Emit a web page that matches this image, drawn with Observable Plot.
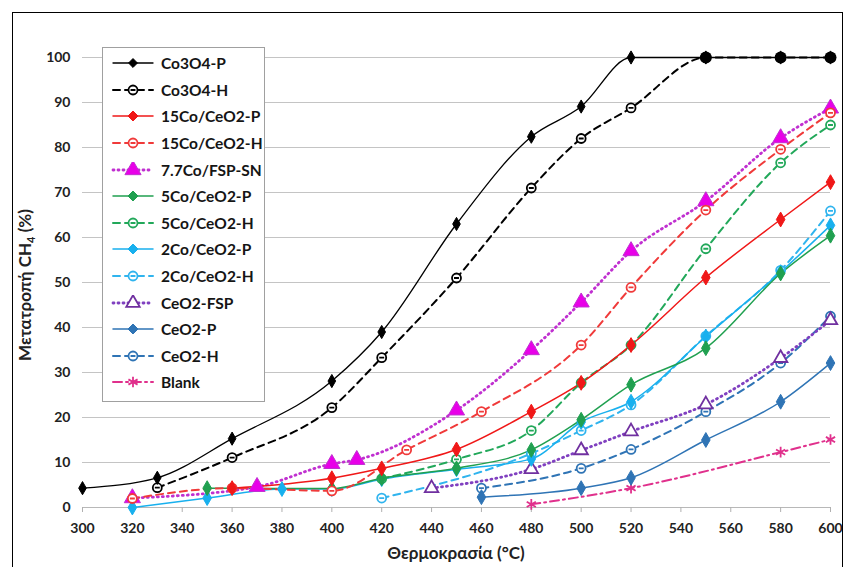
<!DOCTYPE html>
<html><head><meta charset="utf-8">
<script src="https://cdn.jsdelivr.net/npm/d3@7"></script>
<script src="https://cdn.jsdelivr.net/npm/@observablehq/plot@0.6"></script>
<style>
body{margin:0;background:#fff;font-family:Lato,"Open Sans",sans-serif;}
#wrap{position:relative;width:851px;height:567px;overflow:hidden;}
#frame{position:absolute;left:12px;top:12px;width:831px;height:566px;border:1.5px solid #000;pointer-events:none;box-sizing:border-box}
#legend{position:absolute;left:102px;top:47px;width:163px;height:355px;border:1px solid #a0a0a0;background:#fff;box-sizing:border-box;padding-top:2px}
.row{height:26.6px;display:flex;align-items:center;font-weight:bold;font-size:15.5px;color:#151515;white-space:nowrap}
.row svg{margin-left:8px;margin-right:6px;flex:none}
</style>
</head><body>
<div id="wrap"><div id="chart"></div><div id="legend"></div><div id="frame"></div></div>
<script>
// ---- data ----
const xTicks = [300,320,340,360,380,400,420,440,460,480,500,520,540,560,580,600];
const yTicks = [0,10,20,30,40,50,60,70,80,90,100];
const seriesNames = ["Co3O4-P","Co3O4-H","15Co/CeO2-P","15Co/CeO2-H","7.7Co/FSP-SN","5Co/CeO2-P","5Co/CeO2-H","2Co/CeO2-P","2Co/CeO2-H","CeO2-FSP","CeO2-P","CeO2-H","Blank"];

const co3o4P_T = [300,330,360,400,420,450,480,500,520,550,580,600];
const co3o4P_X = [4.3,6.6,15.3,28.1,39.0,63.0,82.4,89.1,100,100,100,100];
const co3o4H_T = [330,360,400,420,450,480,500,520,550,580,600];
const co3o4H_X = [4.4,11.1,22.2,33.3,51.0,71.0,82.0,88.8,100,100,100];
const co15P_T = [360,400,420,450,480,500,520,550,580,600];
const co15P_X = [4.3,6.5,8.7,12.9,21.3,27.7,36.1,51.1,64.0,72.3];
const co15H_T = [320,360,400,430,460,500,520,550,580,600];
const co15H_X = [2.0,4.3,3.7,12.8,21.3,36.1,48.9,66.1,79.6,87.7];
const co77_T = [320,370,400,410,450,480,500,520,550,580,600];
const co77_X = [2.1,4.6,9.7,10.6,21.6,35.0,45.6,57.0,68.1,82.1,88.7];
const co5P_T = [350,400,420,450,480,500,520,550,580,600];
const co5P_X = [4.3,4.2,6.5,8.7,12.8,19.5,27.3,35.4,52.0,60.4];
const co5H_T = [420,450,480,500,520,550,580,600];
const co5H_X = [6.4,10.7,17.1,27.7,36.1,57.5,76.6,85.0];
const co2P_T = [320,350,380,400,420,450,480,500,520,550,580,600];
const co2P_X = [0.0,2.1,4.1,4.1,6.3,8.5,10.8,19.0,23.5,38.0,52.3,62.7];
const co2H_T = [420,480,500,520,550,580,600];
const co2H_X = [2.1,12.0,17.1,22.8,38.1,52.7,65.9];
const ceFSP_T = [440,480,500,520,550,580,600];
const ceFSP_X = [4.3,8.5,12.7,16.9,22.9,33.2,41.6];
const ceP_T = [460,500,520,550,580,600];
const ceP_X = [2.3,4.3,6.6,15.0,23.5,32.1];
const ceH_T = [460,500,520,550,580,600];
const ceH_X = [4.3,8.7,12.9,21.3,32.1,42.5];
const blank_T = [480,520,580,600];
const blank_X = [0.7,4.3,12.3,15.1];

const seriesData = [
  [co3o4P_T,co3o4P_X],[co3o4H_T,co3o4H_X],[co15P_T,co15P_X],[co15H_T,co15H_X],
  [co77_T,co77_X],[co5P_T,co5P_X],[co5H_T,co5H_X],[co2P_T,co2P_X],[co2H_T,co2H_X],
  [ceFSP_T,ceFSP_X],[ceP_T,ceP_X],[ceH_T,ceH_X],[blank_T,blank_X]
];

// ---- styles ----
const theta = {draw(ctx, size){const r=Math.sqrt(size/Math.PI);ctx.moveTo(r,0);ctx.arc(0,0,r,0,2*Math.PI);ctx.moveTo(-r*0.55,0);ctx.lineTo(r*0.55,0);}};
const styles = [
  {color:"#000000", dash:null, w:1.3, sym:"diamond", r:4, filled:true},
  {color:"#000000", dash:"7,5", w:2, sym:theta, r:4.5, filled:false},
  {color:"#f01818", dash:null, w:1.5, sym:"diamond", r:4.5, filled:true},
  {color:"#f03a3a", dash:"7,5", w:2, sym:theta, r:4.5, filled:false},
  {color:"#c030d0", dash:"1,4", w:2.8, sym:"triangle", r:6, filled:true, fillColor:"#e800e8"},
  {color:"#20a050", dash:null, w:1.5, sym:"diamond", r:4.5, filled:true},
  {color:"#22a85a", dash:"7,5", w:2, sym:theta, r:4.5, filled:false},
  {color:"#18b0ee", dash:null, w:1.5, sym:"diamond", r:4.5, filled:true},
  {color:"#30b4ee", dash:"7,5", w:2, sym:theta, r:4.5, filled:false},
  {color:"#8040c0", dash:"1,4", w:2.8, sym:"triangle", r:5, filled:false, markColor:"#7030a0"},
  {color:"#2f74b5", dash:null, w:1.5, sym:"diamond", r:4.5, filled:true},
  {color:"#2f74b5", dash:"7,5", w:2, sym:theta, r:4.5, filled:false},
  {color:"#e0308c", dash:"9,4,2,4", w:2, sym:"asterisk", r:5, filled:false}
];

const rows = [];
seriesData.forEach(([T,X],i)=>T.forEach((t,j)=>rows.push({s:i, t, v:X[j]})));

const marks = [
  Plot.gridY(yTicks, {stroke:"#c4c4c4", strokeOpacity:1, strokeWidth:1}),
  Plot.ruleY([0], {stroke:"#b8b8b8"}),
  Plot.axisX(xTicks, {tickSize:5, tickPadding:11, stroke:"#b0b0b0", fontSize:14, fontWeight:"bold", fill:"#222", label:null}),
  Plot.axisY(yTicks, {tickSize:0, tickPadding:12, fontSize:14, fontWeight:"bold", fill:"#222", label:null})
];
for (let i = seriesData.length-1; i >= 0; i--) {
  const st = styles[i];
  const d = rows.filter(r=>r.s===i);
  marks.push(Plot.line(d, {x:"t", y:"v", stroke:st.color, strokeWidth:st.w, strokeDasharray:st.dash, strokeLinecap:"round", curve:"monotone-x"}));
}
for (let i = seriesData.length-1; i >= 0; i--) {
  const st = styles[i];
  const d = rows.filter(r=>r.s===i);
  const mc = st.markColor || st.color;
  marks.push(Plot.dot(d, {x:"t", y:"v", symbol:()=>st.sym, r:st.r,
    fill: st.filled ? (st.fillColor||mc) : "white",
    stroke: mc,
    strokeWidth: st.filled ? 1 : 1.8}));
}
// overlap of the two Co3O4 series at full conversion
const fullBoth = co3o4P_T.filter((t,j)=>co3o4P_X[j]===100 && co3o4H_T.includes(t) && co3o4H_X[co3o4H_T.indexOf(t)]===100 && t>520);
marks.push(Plot.dot(fullBoth.map(t=>({t, v:100})), {x:"t", y:"v", r:6, fill:"#000"}));

const chart = Plot.plot({
  width:851, height:567,
  marginLeft:82, marginRight:21, marginTop:57, marginBottom:60,
  style:{fontFamily:"Lato, 'Open Sans', sans-serif", background:"transparent"},
  x:{domain:[300,600]},
  y:{domain:[0,100]},
  marks
});
const svg = d3.select(chart);
const yt = svg.append("text").attr("transform","translate(31,285) rotate(-90)")
  .attr("text-anchor","middle").attr("font-size",17).attr("font-weight","bold").attr("fill","#222")
  .attr("font-family","Lato, 'Open Sans', sans-serif");
yt.append("tspan").text("Μετατροπή CH");
yt.append("tspan").text("4").attr("font-size",11).attr("dy",4);
yt.append("tspan").text(" (%)").attr("dy",-4);
svg.append("text").attr("x",456).attr("y",559).attr("text-anchor","middle")
  .attr("font-size",17).attr("font-weight","bold").attr("fill","#222")
  .attr("font-family","Lato, 'Open Sans', sans-serif").text("Θερμοκρασία (°C)");
document.getElementById("chart").appendChild(chart);

// legend
const leg = d3.select("#legend");
seriesNames.forEach((name,i)=>{
  const st = styles[i];
  const row = leg.append("div").attr("class","row");
  const s = row.append("svg").attr("width",44).attr("height",16);
  s.append("line").attr("x1",2).attr("x2",42).attr("y1",8).attr("y2",8)
    .attr("stroke",st.color).attr("stroke-width",st.w).attr("stroke-dasharray",st.dash).attr("stroke-linecap","round");
  const sym = typeof st.sym === "string" ? {diamond:d3.symbolDiamond2, triangle:d3.symbolTriangle, asterisk:d3.symbolAsterisk}[st.sym] : st.sym;
  const mc = st.markColor || st.color;
  const size = st.r*st.r*Math.PI;
  s.append("path").attr("transform","translate(22,8)").attr("d", d3.symbol(sym, size)())
    .attr("fill", st.filled ? (st.fillColor||mc) : "white").attr("stroke", mc).attr("stroke-width", st.filled?1:1.8);
  row.append("span").text(name);
});
</script>
</body></html>
